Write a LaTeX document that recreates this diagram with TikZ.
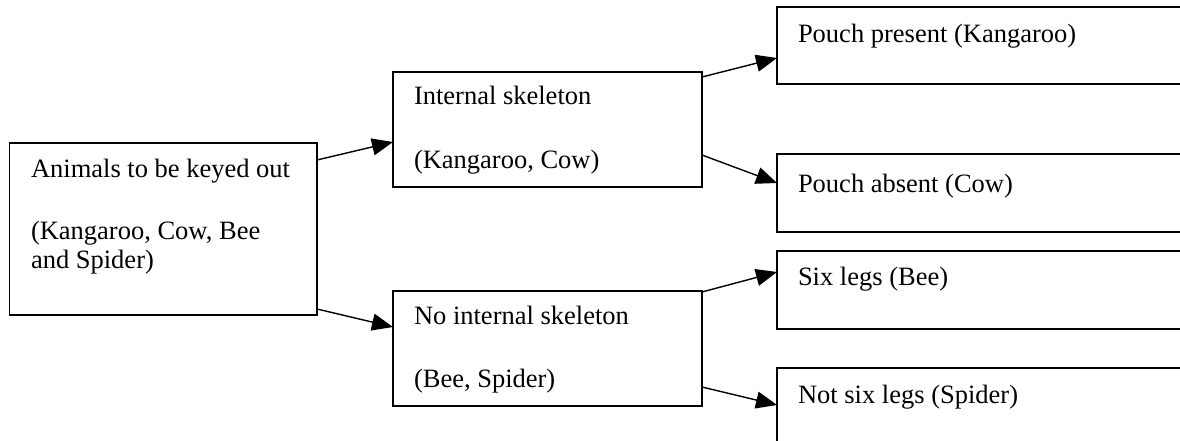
\documentclass[tikz,border=0pt]{standalone}
\usepackage{fontspec}
\setmainfont{Liberation Serif}
\usetikzlibrary{arrows.meta}
\tikzset{
  box/.style={draw=black, line width=1.6pt, rectangle, anchor=north west, inner sep=0pt, outer sep=0pt},
  lbl/.style={anchor=base west, inner sep=0pt, outer sep=0pt, font=\fontsize{26.5}{29}\selectfont},
  arr/.style={draw=black, line width=1.4pt, -{Triangle[length=21pt,width=17pt]}}
}
\begin{document}
\begin{tikzpicture}[x=1pt,y=-1pt]
\useasboundingbox (0,0) rectangle (1180,441);
\clip (0,0) rectangle (1180,441);
\fill[white] (0,0) rectangle (1180,441);
% boxes
\node[box, minimum width=307.5pt, minimum height=172pt] (b1) at (9.5,143) {};
\node[box, minimum width=309pt, minimum height=115pt] (b2) at (393,72) {};
\node[box, minimum width=309pt, minimum height=115pt] (b3) at (393,291) {};
\node[box, minimum width=450pt, minimum height=77pt] (b4) at (777,7) {};
\node[box, minimum width=450pt, minimum height=78pt] (b5) at (777,154) {};
\node[box, minimum width=450pt, minimum height=78pt] (b6) at (777,251) {};
\node[box, minimum width=450pt, minimum height=90pt] (b7) at (777,368) {};
% labels
\node[lbl] (t1a) at (31,177) {Animals to be keyed out};
\node[lbl] (t1b) at (31,239) {(Kangaroo, Cow, Bee};
\node[lbl] (t1c) at (31,268) {and Spider)};
\node[lbl] (t2a) at (414,105) {Internal skeleton};
\node[lbl] (t2b) at (414,168) {(Kangaroo, Cow)};
\node[lbl] (t3a) at (414,324) {No internal skeleton};
\node[lbl] (t3b) at (414,387) {(Bee, Spider)};
\node[lbl] (t4) at (798,43) {Pouch present (Kangaroo)};
\node[lbl] (t5) at (798,192) {Pouch absent (Cow)};
\node[lbl] (t6) at (798,285) {Six legs (Bee)};
\node[lbl] (t7) at (798,403) {Not six legs (Spider)};
% connectors
\draw[arr] ([yshift=-17pt]b1.north east) -- ([yshift=-70pt]b2.north west);
\draw[arr] ([yshift=-166pt]b1.north east) -- ([yshift=-36pt]b3.north west);
\draw[arr] ([yshift=-5pt]b2.north east) -- ([yshift=-51pt]b4.north west);
\draw[arr] ([yshift=-83pt]b2.north east) -- ([yshift=-29pt]b5.north west);
\draw[arr] ([yshift=-1pt]b3.north east) -- ([yshift=-21pt]b6.north west);
\draw[arr] ([yshift=-96pt]b3.north east) -- ([yshift=-37pt]b7.north west);
\end{tikzpicture}
\end{document}
